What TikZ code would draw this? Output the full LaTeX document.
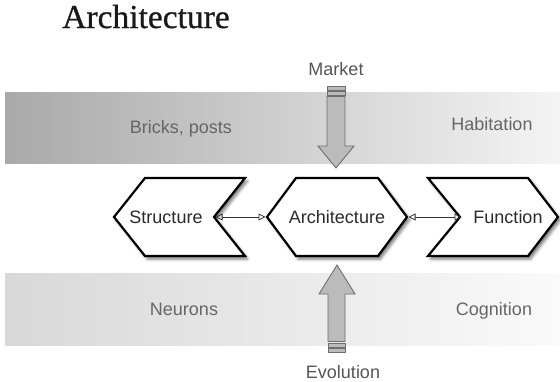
\documentclass[tikz,border=0pt]{standalone}
\usepackage{fontspec}
\setmainfont{Liberation Serif}
\newfontfamily\headfont[FakeBold=0.8]{Liberation Serif}
\newfontfamily\labelfont{Liberation Sans}
\usetikzlibrary{arrows.meta,shadows.blur}

\definecolor{titleink}{HTML}{1A1A1A}
\definecolor{bandink}{HTML}{666666}
\definecolor{forceink}{HTML}{555555}
\definecolor{stageink}{HTML}{2A2A2A}
\definecolor{forcefill}{HTML}{BBBBBB}
\definecolor{forceline}{HTML}{6E6E6E}
\definecolor{upperleft}{HTML}{A9A9A9}
\definecolor{upperright}{HTML}{F4F4F4}
\definecolor{lowerleft}{HTML}{D8D8D8}
\definecolor{lowerright}{HTML}{FAFAFA}

\begin{document}
\begin{tikzpicture}[x=1pt,y=-1pt,
  stage/.style={draw=black, line width=2.2pt, fill=white, line join=miter,
    blur shadow={shadow xshift=2.5pt, shadow yshift=-3pt,
                 shadow blur radius=3pt, shadow opacity=55}},
  stagetext/.style={font=\labelfont\fontsize{18}{18}\selectfont, text=stageink,
    anchor=base, inner sep=0pt},
  bandlabel/.style={font=\labelfont\fontsize{18}{18}\selectfont, text=bandink,
    anchor=base, inner sep=0pt},
  forcelabel/.style={font=\labelfont\fontsize{18}{18}\selectfont, text=forceink,
    anchor=base, inner sep=0pt},
  link/.style={draw=black!80, line width=0.8pt,
    {Triangle[open,length=7pt,width=7pt]}-{Triangle[open,length=7pt,width=7pt]}},
  force/.style={fill=forcefill, draw=forceline, line width=0.9pt, line join=miter}
]
\useasboundingbox (0,0) rectangle (560,381);

% heading
\node[font=\headfont\fontsize{33.5}{33.5}\selectfont, text=titleink, anchor=base,
  inner sep=0pt] (title) at (146,28) {Architecture};

% background bands
\shade[left color=upperleft, right color=upperright] (5,92) rectangle (560,163);
\shade[left color=lowerleft, right color=lowerright] (5,273) rectangle (560,345);

\node[bandlabel] (bricks) at (181,133) {Bricks, posts};
\node[bandlabel] (habitation) at (492,130) {Habitation};
\node[bandlabel] (neurons) at (184,315) {Neurons};
\node[bandlabel] (cognition) at (494,315) {Cognition};

% downward force arrow
\path[force] (327,86) rectangle (345,90);
\path[force] (327,91) rectangle (345,95);
\path[force] (327,96.5) -- (345,96.5) -- (345,146) -- (354,146) -- (336,168)
  -- (318,146) -- (327,146) -- cycle;
\node[forcelabel] (market) at (336,75) {Market};

% upward force arrow
\path[force] (328,348) rectangle (345,352);
\path[force] (328,343) rectangle (345,347);
\path[force] (328,341.5) -- (345,341.5) -- (345,294) -- (355,294) -- (337,265)
  -- (319,294) -- (328,294) -- cycle;
\node[forcelabel] (evolution) at (343,378) {Evolution};

% stage shapes
\path[stage] (114,217) -- (145,178) -- (245,178) -- (214,217) -- (245,256)
  -- (145,256) -- cycle;
\path[stage] (267,217) -- (296,178) -- (378,178) -- (407,217) -- (378,256)
  -- (296,256) -- cycle;
\path[stage] (428,178) -- (528,178) -- (558,217) -- (528,256) -- (428,256)
  -- (460,217) -- cycle;

\node[stagetext] (structure) at (166,223) {Structure};
\node[stagetext] (architecture) at (337,223) {Architecture};
\node[stagetext] (function) at (508,223) {Function};

% connection points on the shape outlines
\coordinate (structure-notch) at (215.5,217);
\coordinate (architecture-west) at (265.5,217);
\coordinate (architecture-east) at (408.5,217);
\coordinate (function-notch) at (461.5,217);

\draw[link] (structure-notch) -- (architecture-west);
\draw[link] (architecture-east) -- (function-notch);
\end{tikzpicture}
\end{document}
